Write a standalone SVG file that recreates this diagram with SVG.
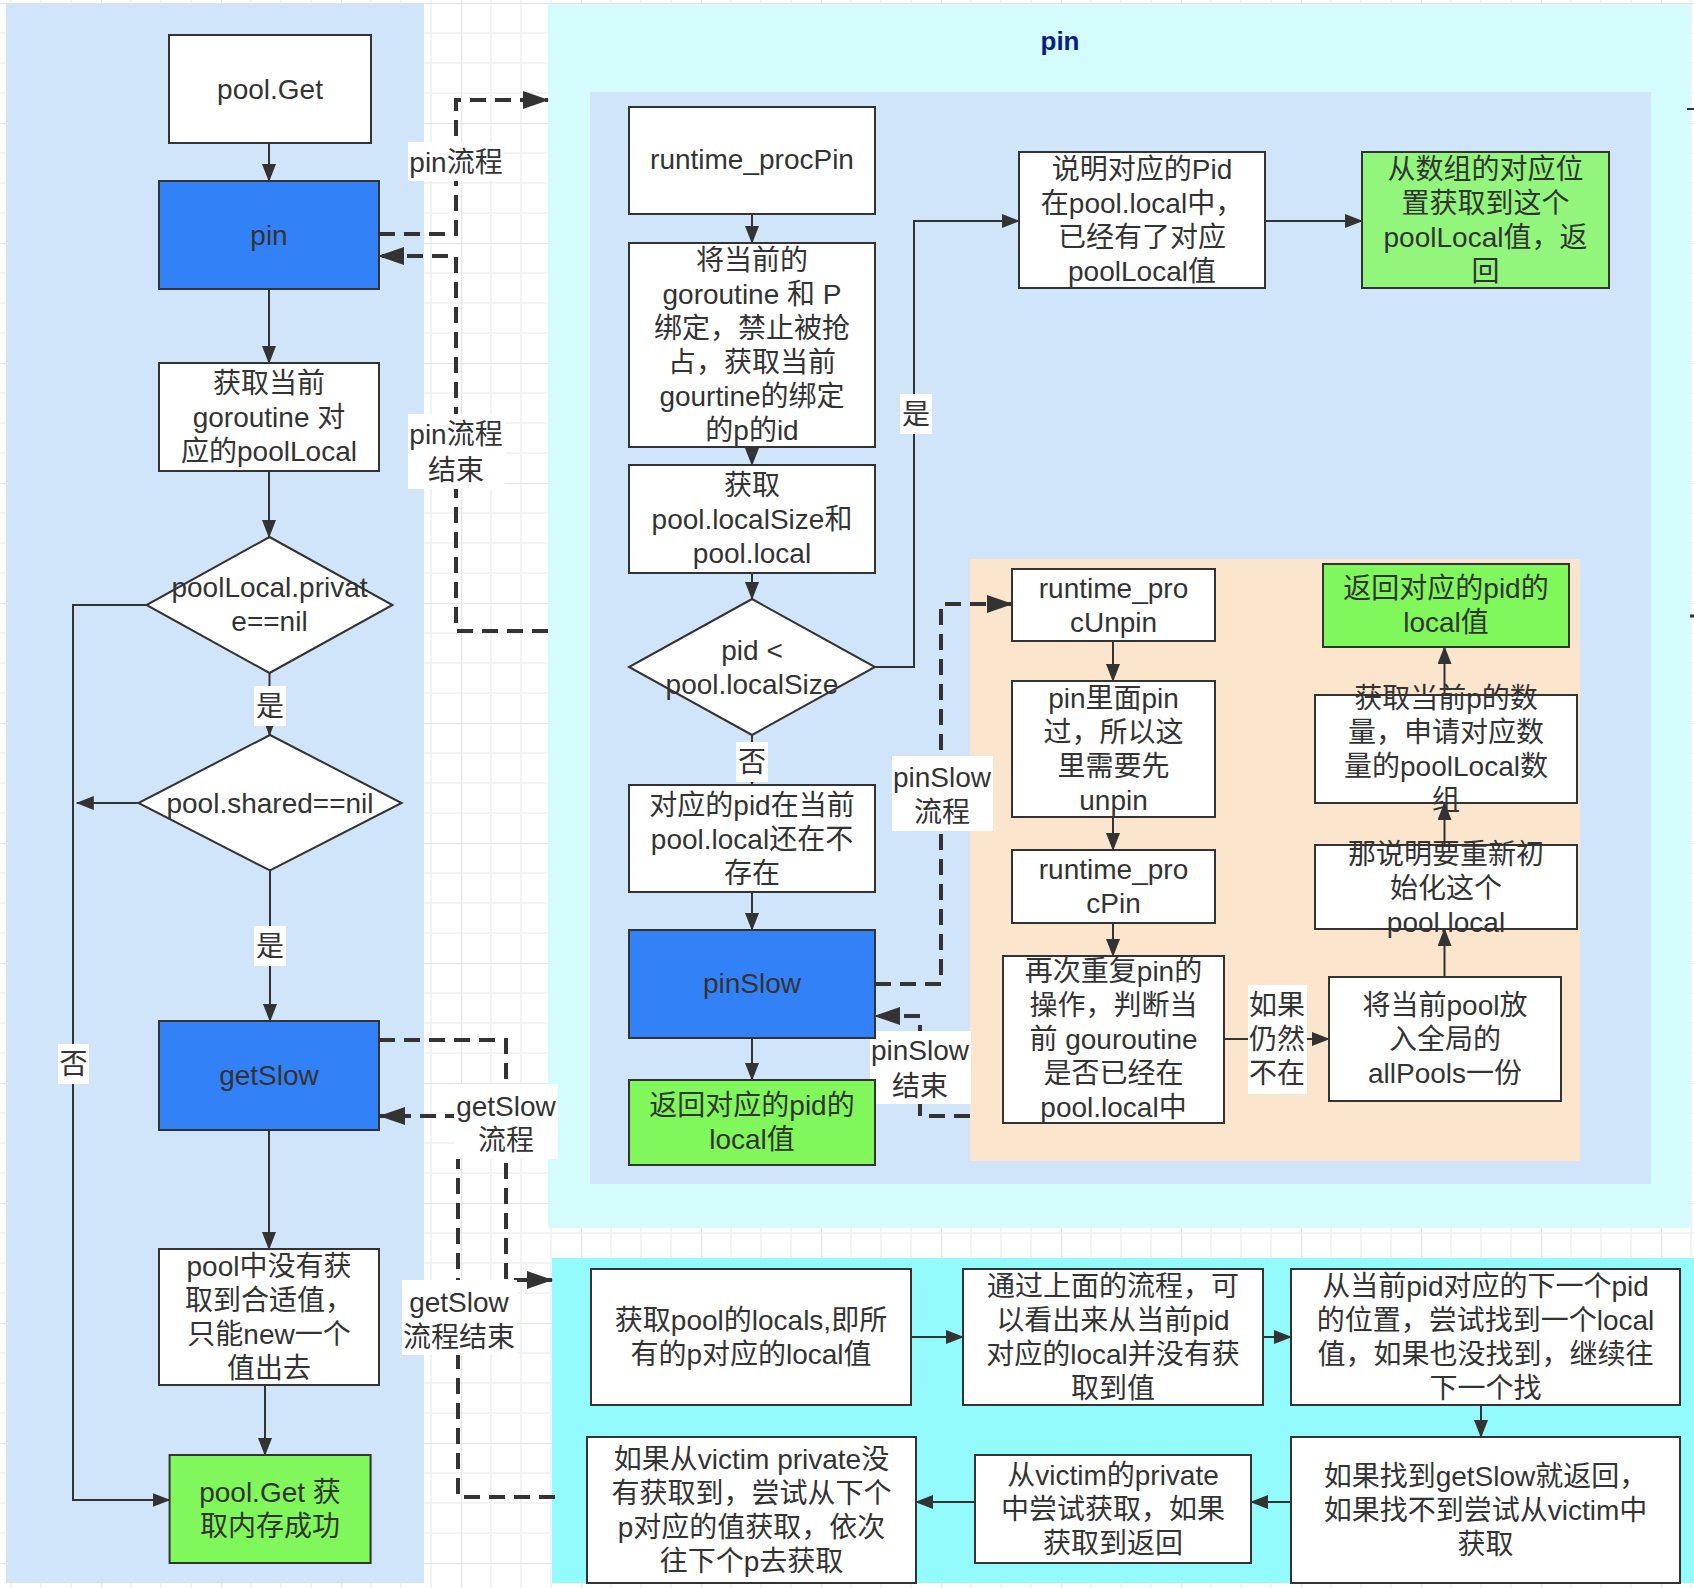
<svg xmlns="http://www.w3.org/2000/svg" width="1694" height="1588" viewBox="0 0 1694 1588">
<style>
.t{font-family:"Liberation Sans","Noto Sans CJK SC",sans-serif;font-size:28px;fill:#333;text-anchor:middle;dominant-baseline:central}
.bx{stroke:#333;stroke-width:2}
.w{fill:#fff}
.blue{fill:#3381F6}
.green{fill:#80F75A}
.green2{fill:#93F67C}
.ln{stroke:#333;stroke-width:2;fill:none}
.dash{stroke:#333;stroke-width:4;stroke-dasharray:16 9;fill:none}
.lbl{fill:#fff}
</style>
<defs>
<pattern id="grid" patternUnits="userSpaceOnUse" x="101" y="3" width="120" height="120">
<path d="M30,0V120M60,0V120M90,0V120M0,30H120M0,60H120M0,90H120" stroke="#efefef" stroke-width="1.5" fill="none"/>
<path d="M0,0V120M0,0H120" stroke="#e5e5e5" stroke-width="2.5" fill="none"/>
</pattern>
<marker id="a" markerUnits="userSpaceOnUse" markerWidth="18" markerHeight="14" refX="17" refY="7" orient="auto">
<path d="M0,0L18,7L0,14z" fill="#333"/>
</marker>
<marker id="ad" markerUnits="userSpaceOnUse" markerWidth="26" markerHeight="18" refX="25" refY="9" orient="auto">
<path d="M0,0L26,9L0,18z" fill="#333"/>
</marker>
</defs>
<rect width="1694" height="1588" fill="#fff"/>
<rect width="1694" height="1588" fill="url(#grid)"/>

<!-- containers -->
<g id="left-panel"><rect x="6" y="4" width="418" height="1579" fill="#D0E4FA"/></g>
<g id="pin-container">
<rect x="548" y="4" width="1142" height="1224" fill="#D4FCFC"/>
<text x="1060" y="41" style="font-family:'Liberation Sans',sans-serif;font-size:26px;font-weight:bold;fill:#0B1B8F;text-anchor:middle;dominant-baseline:central">pin</text>
<rect x="590" y="92" width="1061" height="1092" fill="#D0E4FA"/>
<rect x="970" y="559" width="610" height="602" fill="#FCE5CD"/>
</g>
<g id="getslow-container"><rect x="552" y="1258" width="1142" height="325" fill="#93FBFB"/></g>

<!-- connectors -->
<g id="connectors">
<path class="ln" d="M269,143V181" marker-end="url(#a)"/>
<path class="ln" d="M269,289V363" marker-end="url(#a)"/>
<path class="ln" d="M269,471V537" marker-end="url(#a)"/>
<path class="ln" d="M269.5,673V735" marker-end="url(#a)"/>
<path class="ln" d="M270,870.5V1021" marker-end="url(#a)"/>
<path class="ln" d="M269,1130V1249" marker-end="url(#a)"/>
<path class="ln" d="M265,1385V1455" marker-end="url(#a)"/>
<path class="ln" d="M146.5,605H73V1500H169.6" marker-end="url(#a)"/>
<path class="ln" d="M138.4,803H76.8" marker-end="url(#a)"/>

<path class="dash" d="M379,234H456V100H548" marker-end="url(#ad)"/>
<path class="dash" d="M548,631H456V256H379" marker-end="url(#ad)"/>
<path class="dash" d="M379,1040H506V1280H552" marker-end="url(#ad)"/>
<path class="dash" d="M555,1497H458V1116H380" marker-end="url(#ad)"/>

<path class="ln" d="M752,214V243" marker-end="url(#a)"/>
<path class="ln" d="M752,447V465" marker-end="url(#a)"/>
<path class="ln" d="M752,573V599" marker-end="url(#a)"/>
<path class="ln" d="M752,735V785" marker-end="url(#a)"/>
<path class="ln" d="M752,892V930" marker-end="url(#a)"/>
<path class="ln" d="M752,1038V1080" marker-end="url(#a)"/>
<path class="ln" d="M875,667H914V221H1019" marker-end="url(#a)"/>
<path class="ln" d="M1265,221H1362" marker-end="url(#a)"/>

<path class="dash" d="M875,984H941V604H1012" marker-end="url(#ad)"/>
<path class="dash" d="M970,1116H920V1016H875" marker-end="url(#ad)"/>

<path class="ln" d="M1113,641V681" marker-end="url(#a)"/>
<path class="ln" d="M1113,817V850" marker-end="url(#a)"/>
<path class="ln" d="M1113,923V956" marker-end="url(#a)"/>
<path class="ln" d="M1224,1039H1329" marker-end="url(#a)"/>
<path class="ln" d="M1444.5,977V929" marker-end="url(#a)"/>
<path class="ln" d="M1444.5,845V803" marker-end="url(#a)"/>
<path class="ln" d="M1444.5,695V647" marker-end="url(#a)"/>

<path class="ln" d="M911,1337H963" marker-end="url(#a)"/>
<path class="ln" d="M1263,1337H1291" marker-end="url(#a)"/>
<path class="ln" d="M1481,1405V1437" marker-end="url(#a)"/>
<path class="ln" d="M1291,1502H1251" marker-end="url(#a)"/>
<path class="ln" d="M975,1502H916" marker-end="url(#a)"/>

<path d="M1687,109H1694" stroke="#333" stroke-width="2"/>
<path d="M1690,616H1694" stroke="#333" stroke-width="3"/>

<!-- connector labels -->
<rect class="lbl" x="254" y="686" width="32" height="40"/><text class="t" x="270" y="706">是</text>
<rect class="lbl" x="254" y="926" width="32" height="40"/><text class="t" x="270" y="946">是</text>
<rect class="lbl" x="58" y="1044" width="31" height="40"/><text class="t" x="73.5" y="1064">否</text>
<rect class="lbl" x="408" y="142" width="96" height="39"/><text class="t" x="456" y="162">pin流程</text>
<rect class="lbl" x="408" y="414" width="97" height="75"/><text class="t"><tspan x="456" y="434">pin流程</tspan><tspan x="456" y="470">结束</tspan></text>
<rect class="lbl" x="454" y="1084" width="104" height="75"/><text class="t"><tspan x="506" y="1106">getSlow</tspan><tspan x="506" y="1140">流程</tspan></text>
<rect class="lbl" x="402" y="1280" width="115" height="75"/><text class="t"><tspan x="459" y="1302">getSlow</tspan><tspan x="459" y="1337">流程结束</tspan></text>
<rect class="lbl" x="900" y="394" width="32" height="40"/><text class="t" x="916" y="414">是</text>
<rect class="lbl" x="736" y="742" width="32" height="40"/><text class="t" x="752" y="762">否</text>
<rect class="lbl" x="892" y="756" width="101" height="75"/><text class="t"><tspan x="942" y="777">pinSlow</tspan><tspan x="942" y="812">流程</tspan></text>
<rect class="lbl" x="870" y="1031" width="101" height="73"/><text class="t"><tspan x="920" y="1050">pinSlow</tspan><tspan x="920" y="1086">结束</tspan></text>
<rect class="lbl" x="1248" y="985" width="59" height="109"/><text class="t"><tspan x="1277" y="1005">如果</tspan><tspan x="1277" y="1039">仍然</tspan><tspan x="1277" y="1073">不在</tspan></text>
</g>

<!-- left column nodes -->
<g id="n-poolget"><rect class="bx w" x="169" y="35" width="202" height="108"/><text class="t" x="270" y="89">pool.Get</text></g>
<g id="n-pin"><rect class="bx blue" x="159" y="181" width="220" height="108"/><text class="t" x="269" y="235">pin</text></g>
<g id="n-getlocal"><rect class="bx w" x="159" y="363" width="220" height="108"/><text class="t"><tspan x="269" y="383">获取当前</tspan><tspan x="269" y="417">goroutine 对</tspan><tspan x="269" y="451">应的poolLocal</tspan></text></g>
<g id="n-private"><polygon class="bx w" points="269.5,537 392.5,605 269.5,673 146.5,605"/><text class="t"><tspan x="269.5" y="587">poolLocal.privat</tspan><tspan x="269.5" y="621">e==nil</tspan></text></g>
<g id="n-shared"><polygon class="bx w" points="270,735 401.6,803 270,870.5 138.4,803"/><text class="t" x="270" y="803">pool.shared==nil</text></g>
<g id="n-getslow"><rect class="bx blue" x="159" y="1021" width="220" height="109"/><text class="t" x="269" y="1075">getSlow</text></g>
<g id="n-new"><rect class="bx w" x="159" y="1249" width="220" height="136"/><text class="t"><tspan x="269" y="1266">pool中没有获</tspan><tspan x="269" y="1300">取到合适值，</tspan><tspan x="269" y="1334">只能new一个</tspan><tspan x="269" y="1368">值出去</tspan></text></g>
<g id="n-success"><rect class="bx green" x="169.6" y="1455" width="201" height="108"/><text class="t"><tspan x="270" y="1492">pool.Get 获</tspan><tspan x="270" y="1526">取内存成功</tspan></text></g>

<!-- pin nodes -->
<g id="n-procpin"><rect class="bx w" x="629" y="107" width="246" height="107"/><text class="t" x="752" y="159">runtime_procPin</text></g>
<g id="n-bind"><rect class="bx w" x="629" y="243" width="246" height="204"/><text class="t"><tspan x="752" y="260">将当前的</tspan><tspan x="752" y="294">goroutine 和 P</tspan><tspan x="752" y="328">绑定，禁止被抢</tspan><tspan x="752" y="362">占，获取当前</tspan><tspan x="752" y="396">gourtine的绑定</tspan><tspan x="752" y="430">的p的id</tspan></text></g>
<g id="n-localsize"><rect class="bx w" x="629" y="465" width="246" height="108"/><text class="t"><tspan x="752" y="485">获取</tspan><tspan x="752" y="519">pool.localSize和</tspan><tspan x="752" y="553">pool.local</tspan></text></g>
<g id="n-pidcmp"><polygon class="bx w" points="752,599 875,667 752,735 629,667"/><text class="t"><tspan x="752" y="650">pid &lt;</tspan><tspan x="752" y="684">pool.localSize</tspan></text></g>
<g id="n-notexist"><rect class="bx w" x="629" y="785" width="246" height="107"/><text class="t"><tspan x="752" y="805">对应的pid在当前</tspan><tspan x="752" y="839">pool.local还在不</tspan><tspan x="752" y="873">存在</tspan></text></g>
<g id="n-pinslow"><rect class="bx blue" x="629" y="930" width="246" height="108"/><text class="t" x="752" y="983">pinSlow</text></g>
<g id="n-ret1"><rect class="bx green" x="629" y="1080" width="246" height="85"/><text class="t"><tspan x="752" y="1105">返回对应的pid的</tspan><tspan x="752" y="1139">local值</tspan></text></g>
<g id="n-exists"><rect class="bx w" x="1019" y="152" width="246" height="136"/><text class="t"><tspan x="1142" y="169">说明对应的Pid</tspan><tspan x="1142" y="203">在pool.local中，</tspan><tspan x="1142" y="237">已经有了对应</tspan><tspan x="1142" y="271">poolLocal值</tspan></text></g>
<g id="n-fromarray"><rect class="bx green2" x="1362" y="152" width="247" height="136"/><text class="t"><tspan x="1485.5" y="169">从数组的对应位</tspan><tspan x="1485.5" y="203">置获取到这个</tspan><tspan x="1485.5" y="237">poolLocal值，返</tspan><tspan x="1485.5" y="271">回</tspan></text></g>

<!-- pinSlow nodes -->
<g id="n-unpin"><rect class="bx w" x="1012" y="569" width="203" height="72"/><text class="t"><tspan x="1113.5" y="588">runtime_pro</tspan><tspan x="1113.5" y="622">cUnpin</tspan></text></g>
<g id="n-unpinnote"><rect class="bx w" x="1012" y="681" width="203" height="136"/><text class="t"><tspan x="1113.5" y="698">pin里面pin</tspan><tspan x="1113.5" y="732">过，所以这</tspan><tspan x="1113.5" y="766">里需要先</tspan><tspan x="1113.5" y="800">unpin</tspan></text></g>
<g id="n-procpin2"><rect class="bx w" x="1012" y="850" width="203" height="73"/><text class="t"><tspan x="1113.5" y="869">runtime_pro</tspan><tspan x="1113.5" y="903">cPin</tspan></text></g>
<g id="n-repeat"><rect class="bx w" x="1003" y="956" width="221" height="167"/><text class="t"><tspan x="1113.5" y="971">再次重复pin的</tspan><tspan x="1113.5" y="1005">操作，判断当</tspan><tspan x="1113.5" y="1039">前 gouroutine</tspan><tspan x="1113.5" y="1073">是否已经在</tspan><tspan x="1113.5" y="1107">pool.local中</tspan></text></g>
<g id="n-allpools"><rect class="bx w" x="1329" y="977" width="232" height="124"/><text class="t"><tspan x="1445" y="1005">将当前pool放</tspan><tspan x="1445" y="1039">入全局的</tspan><tspan x="1445" y="1073">allPools一份</tspan></text></g>
<g id="n-reinit"><rect class="bx w" x="1315" y="845" width="262" height="84"/><text class="t"><tspan x="1446" y="854">那说明要重新初</tspan><tspan x="1446" y="888">始化这个</tspan><tspan x="1446" y="922">pool.local</tspan></text></g>
<g id="n-alloc"><rect class="bx w" x="1315" y="695" width="262" height="108"/><text class="t"><tspan x="1446" y="698">获取当前p的数</tspan><tspan x="1446" y="732">量，申请对应数</tspan><tspan x="1446" y="766">量的poolLocal数</tspan><tspan x="1446" y="800">组</tspan></text></g>
<g id="n-ret2"><rect class="bx green" x="1323" y="564" width="246" height="83"/><text class="t"><tspan x="1446" y="588">返回对应的pid的</tspan><tspan x="1446" y="622">local值</tspan></text></g>

<!-- getSlow nodes -->
<g id="n-locals"><rect class="bx w" x="591" y="1269" width="320" height="136"/><text class="t"><tspan x="751" y="1320">获取pool的locals,即所</tspan><tspan x="751" y="1354">有的p对应的local值</tspan></text></g>
<g id="n-notfound"><rect class="bx w" x="963" y="1269" width="300" height="136"/><text class="t"><tspan x="1113" y="1286">通过上面的流程，可</tspan><tspan x="1113" y="1320">以看出来从当前pid</tspan><tspan x="1113" y="1354">对应的local并没有获</tspan><tspan x="1113" y="1388">取到值</tspan></text></g>
<g id="n-next"><rect class="bx w" x="1291" y="1269" width="389" height="136"/><text class="t"><tspan x="1485.5" y="1286">从当前pid对应的下一个pid</tspan><tspan x="1485.5" y="1320">的位置，尝试找到一个local</tspan><tspan x="1485.5" y="1354">值，如果也没找到，继续往</tspan><tspan x="1485.5" y="1388">下一个找</tspan></text></g>
<g id="n-found"><rect class="bx w" x="1291" y="1437" width="389" height="146"/><text class="t"><tspan x="1485.5" y="1476">如果找到getSlow就返回，</tspan><tspan x="1485.5" y="1510">如果找不到尝试从victim中</tspan><tspan x="1485.5" y="1544">获取</tspan></text></g>
<g id="n-victim"><rect class="bx w" x="975" y="1455" width="276" height="108"/><text class="t"><tspan x="1113" y="1475">从victim的private</tspan><tspan x="1113" y="1509">中尝试获取，如果</tspan><tspan x="1113" y="1543">获取到返回</tspan></text></g>
<g id="n-victimnext"><rect class="bx w" x="587" y="1437" width="329" height="146"/><text class="t"><tspan x="751.5" y="1459">如果从victim private没</tspan><tspan x="751.5" y="1493">有获取到，尝试从下个</tspan><tspan x="751.5" y="1527">p对应的值获取，依次</tspan><tspan x="751.5" y="1561">往下个p去获取</tspan></text></g>
</svg>
